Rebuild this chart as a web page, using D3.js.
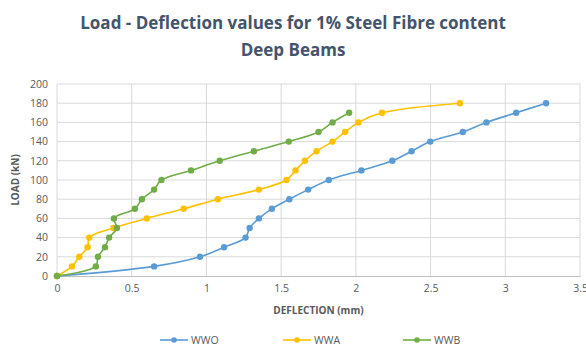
<!DOCTYPE html>
<html>
<head>
<meta charset="utf-8">
<script src="https://cdn.jsdelivr.net/npm/d3@7"></script>
<style>
  body { margin: 0; background: #fff; }
  svg { font-family: "Open Sans", "Liberation Sans", sans-serif; }
</style>
</head>
<body>
<svg width="586" height="352"></svg>
<script>
var xTicks = [0, 0.5, 1, 1.5, 2, 2.5, 3, 3.5];
var yTicks = [0, 20, 40, 60, 80, 100, 120, 140, 160, 180, 200];

var wwoX = [0, 0.65, 0.957, 1.118, 1.262, 1.289, 1.351, 1.438, 1.555, 1.681, 1.819, 2.037, 2.244, 2.373, 2.498, 2.716, 2.874, 3.073, 3.273];
var wwoY = [0, 10, 20, 30, 40, 50, 60, 70, 80, 90, 100, 110, 120, 130, 140, 150, 160, 170, 180];

var wwaX = [0, 0.1, 0.149, 0.205, 0.216, 0.378, 0.601, 0.848, 1.077, 1.351, 1.536, 1.596, 1.659, 1.737, 1.843, 1.928, 2.017, 2.175, 2.696];
var wwaY = [0, 10, 20, 30, 40, 50, 60, 70, 80, 90, 100, 110, 120, 130, 140, 150, 160, 170, 180];

var wwbX = [0, 0.26, 0.274, 0.321, 0.349, 0.401, 0.381, 0.521, 0.568, 0.65, 0.699, 0.897, 1.089, 1.318, 1.551, 1.75, 1.844, 1.955];
var wwbY = [0, 10, 20, 30, 40, 50, 60, 70, 80, 90, 100, 110, 120, 130, 140, 150, 160, 170];

var seriesNames = ["WWO", "WWA", "WWB"];
var colors = ["#5B9BD5", "#FFC000", "#70AD47"];

var series = [
  { name: seriesNames[0], color: colors[0], pts: d3.zip(wwoX, wwoY) },
  { name: seriesNames[1], color: colors[1], pts: d3.zip(wwaX, wwaY) },
  { name: seriesNames[2], color: colors[2], pts: d3.zip(wwbX, wwbY) }
];

var svg = d3.select("svg");
var margin = { left: 57, right: 6, top: 84, bottom: 76 };
var width = 586 - margin.left - margin.right,
    height = 352 - margin.top - margin.bottom;

var x = d3.scaleLinear().domain([0, 3.5]).range([margin.left, margin.left + width]);
var y = d3.scaleLinear().domain([0, 200]).range([margin.top + height, margin.top]);

// title
svg.append("text")
    .attr("x", 293).attr("y", 29)
    .attr("text-anchor", "middle")
    .attr("font-size", 17).attr("font-weight", "bold")
    .attr("fill", "#44546A")
    .text("Load - Deflection values for 1% Steel Fibre content");
svg.append("text")
    .attr("x", 293).attr("y", 56)
    .attr("text-anchor", "middle")
    .attr("font-size", 17).attr("font-weight", "bold")
    .attr("fill", "#44546A")
    .text("Deep Beams");

// grid
svg.append("g")
    .selectAll("line").data(yTicks.slice(1)).enter().append("line")
    .attr("x1", x(0)).attr("x2", x(3.5))
    .attr("y1", d => y(d)).attr("y2", d => y(d))
    .attr("stroke", "#d9d9d9").attr("stroke-width", 1);
svg.append("g")
    .selectAll("line").data(xTicks).enter().append("line")
    .attr("y1", y(0)).attr("y2", y(200))
    .attr("x1", d => x(d)).attr("x2", d => x(d))
    .attr("stroke", "#d9d9d9").attr("stroke-width", 1);

// axes
var xAxis = svg.append("g")
    .attr("transform", "translate(0," + y(0) + ")")
    .call(d3.axisBottom(x).tickValues(xTicks).tickSize(0).tickPadding(9).tickFormat(d3.format("")));
xAxis.select(".domain").attr("stroke", "#bfbfbf");
xAxis.selectAll("text").attr("fill", "#595959").attr("font-size", 10.5).attr("font-family", "Open Sans");

var yAxis = svg.append("g")
    .attr("transform", "translate(" + x(0) + ",0)")
    .call(d3.axisLeft(y).tickValues(yTicks).tickSize(0).tickPadding(9));
yAxis.select(".domain").remove();
yAxis.selectAll("text").attr("fill", "#595959").attr("font-size", 10.5).attr("font-family", "Open Sans");

// axis titles
svg.append("text")
    .attr("x", x(1.75)).attr("y", 314)
    .attr("text-anchor", "middle")
    .attr("font-size", 10).attr("font-weight", "bold")
    .attr("fill", "#595959")
    .text("DEFLECTION (mm)");
svg.append("text")
    .attr("transform", "translate(19," + y(100) + ") rotate(-90)")
    .attr("text-anchor", "middle")
    .attr("font-size", 10).attr("font-weight", "bold")
    .attr("fill", "#595959")
    .text("LOAD (kN)");

// lines
var line = d3.line()
    .x(d => x(d[0])).y(d => y(d[1]))
    .curve(d3.curveCatmullRom.alpha(0.5));

var g = svg.append("g").selectAll("g").data(series).enter().append("g");
g.append("path")
    .attr("d", d => line(d.pts))
    .attr("fill", "none")
    .attr("stroke", d => d.color)
    .attr("stroke-width", 1.6);
g.selectAll("circle").data(d => d.pts.map(p => ({ p: p, c: d.color }))).enter().append("circle")
    .attr("cx", d => x(d.p[0])).attr("cy", d => y(d.p[1]))
    .attr("r", 3.2)
    .attr("fill", d => d.c);

// legend
var legendX = [160, 283, 403];
var lg = svg.append("g").selectAll("g").data(series).enter().append("g")
    .attr("transform", (d, i) => "translate(" + legendX[i] + ",340)");
lg.append("line")
    .attr("x1", 0).attr("x2", 28)
    .attr("stroke", d => d.color).attr("stroke-width", 1.6);
lg.append("circle")
    .attr("cx", 14).attr("r", 2.8)
    .attr("fill", d => d.color);
lg.append("text")
    .attr("x", 31).attr("y", 4)
    .attr("font-size", 10.5).attr("fill", "#595959")
    .text(d => d.name);
</script>
</body>
</html>
